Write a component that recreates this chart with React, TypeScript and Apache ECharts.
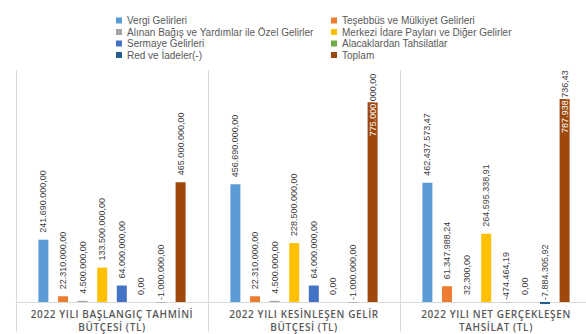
import React, { useEffect, useRef } from "react";
import * as echarts from "echarts";

const categories = [
  "2022 YILI BAŞLANGIÇ TAHMİNİ\nBÜTÇESİ (TL)",
  "2022 YILI KESİNLEŞEN GELİR\nBÜTÇESİ (TL)",
  "2022 YILI NET GERÇEKLEŞEN\nTAHSİLAT (TL)",
];

const seriesNames = [
  "Vergi Gelirleri",
  "Teşebbüs ve Mülkiyet Gelirleri",
  "Alınan Bağış ve Yardımlar ile Özel Gelirler",
  "Merkezi İdare Payları ve Diğer Gelirler",
  "Sermaye Gelirleri",
  "Alacaklardan Tahsilatlar",
  "Red ve İadeler(-)",
  "Toplam",
];

const vergi = [241690000, 456690000, 462437573.47];
const tesebbus = [22310000, 22310000, 61347988.24];
const alinan = [4500000, 4500000, 32300];
const merkezi = [133500000, 228500000, 264595338.91];
const sermaye = [64000000, 64000000, -474464.19];
const alacak = [0, 0, 0];
const red = [-1000000, -1000000, -7884305.92];
const toplam = [465000000, 775000000, 787938736.43];

const seriesValues = [vergi, tesebbus, alinan, merkezi, sermaye, alacak, red, toplam];

const colors = ["#5B9BD5", "#ED7D31", "#A5A5A5", "#FFC000", "#4472C4", "#70AD47", "#255E91", "#9E480E"];

const leftLegend = [seriesNames[0], seriesNames[2], seriesNames[4], seriesNames[6]];
const rightLegend = [seriesNames[1], seriesNames[3], seriesNames[5], seriesNames[7]];

const FONT = "Liberation Sans";

function fmt(v: number): string {
  const neg = v < 0;
  const s = Math.abs(v).toFixed(2);
  const [i, d] = s.split(".");
  const ii = i.replace(/\B(?=(\d{3})+(?!\d))/g, ".");
  return (neg ? "-" : "") + ii + "," + d;
}

function splitAt(text: string, px: number): [string, string] {
  let acc = 0;
  for (let k = 0; k < text.length; k++) {
    const w = /[0-9]/.test(text[k]) ? 5 : 2.5;
    if (acc + w > px + 1) return [text.slice(0, k), text.slice(k)];
    acc += w;
  }
  return [text, ""];
}

export default function App() {
  const ref = useRef<HTMLDivElement>(null);
  useEffect(() => {
    document.body.style.margin = "0";
    const el = ref.current!;
    const chart = echarts.init(el, null, { renderer: "svg" });
    const insideDist = 34;
    const series = seriesNames.map((name, si) => ({
      name,
      type: "bar",
      barWidth: 10,
      barGap: "96%",
      itemStyle: { color: colors[si] },
      data: seriesValues[si].map((v) => {
        if (v > 700000000) {
          const [a, b] = splitAt(fmt(v), insideDist);
          return {
            value: v,
            label: {
              position: "insideTop",
              distance: insideDist,
              formatter: `{w|${a}}{d|${b}}`,
            },
          };
        }
        return { value: v, label: { distance: v < 0 ? 2 : 7 } };
      }),
      label: {
        show: true,
        position: "top",
        rotate: 90,
        align: "left",
        verticalAlign: "middle",
        fontSize: 9,
        fontFamily: FONT,
        color: "#404040",
        formatter: (p: any) => fmt(p.value),
        rich: {
          w: { color: "#ffffff", fontSize: 9, fontFamily: FONT },
          d: { color: "#404040", fontSize: 9, fontFamily: FONT },
        },
      },
    }));
    const legendCommon = {
      orient: "vertical",
      top: 15,
      padding: 0,
      itemWidth: 6,
      itemHeight: 6,
      itemGap: 0.5,
      icon: "rect",
      textStyle: { fontSize: 10, fontFamily: FONT, color: "#595959", lineHeight: 11 },
    };
    const catLines = new Set<string>();
    categories.forEach((c) => c.split("\n").forEach((l) => catLines.add(l)));
    const spaceLabels = () => {
      el.querySelectorAll("text").forEach((t) => {
        if (catLines.has((t.textContent || "").trim())) {
          t.setAttribute("letter-spacing", "0.6");
        }
      });
    };
    chart.on("finished", spaceLabels);
    chart.setOption({
      animation: false,
      legend: [
        { ...legendCommon, left: 116, data: leftLegend },
        { ...legendCommon, left: 331, data: rightLegend },
      ],
      grid: { left: 16, top: 70, width: 576, height: 234.6, outerBoundsMode: "none", containLabel: false },
      xAxis: {
        type: "category",
        data: categories,
        axisLine: { show: true, onZero: true, lineStyle: { color: "#d9d9d9" } },
        axisTick: { show: true, interval: 0, length: 30, lineStyle: { color: "#d9d9d9" } },
        splitLine: { show: true, interval: 0, lineStyle: { color: "#d9d9d9" } },
        axisLabel: {
          interval: 0,
          margin: 3,
          fontSize: 10,
          fontWeight: 600,
          fontFamily: "Open Sans",
          color: "#595959",
          lineHeight: 13,
        },
      },
      yAxis: {
        type: "value",
        min: -10000000,
        max: 900000000,
        show: false,
        splitLine: { show: false },
      },
      series,
    });
    spaceLabels();
    const timer = setTimeout(spaceLabels, 50);
    return () => {
      clearTimeout(timer);
      chart.dispose();
    };
  }, []);
  return <div ref={ref} style={{ width: 586, height: 334 }} />;
}
